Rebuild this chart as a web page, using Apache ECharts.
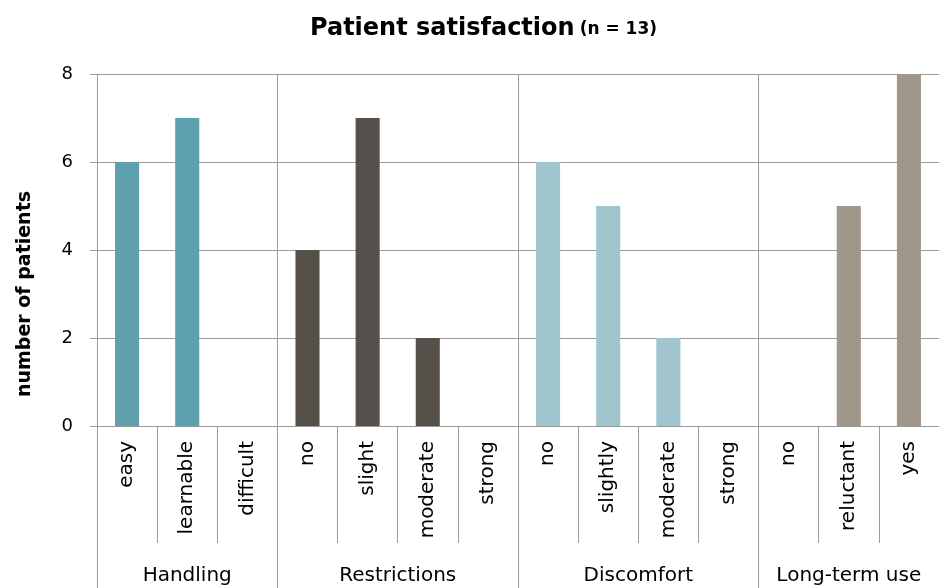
<!DOCTYPE html>
<html>
<head>
<meta charset="utf-8">
<script src="https://cdn.jsdelivr.net/npm/echarts@6/dist/echarts.min.js"></script>
<style>
  html, body { margin: 0; padding: 0; background: #fff; }
  #chart { width: 939px; height: 588px; }
</style>
</head>
<body>
<div id="chart"></div>
<script>
// ---- data ----
const groupNames = ['Handling', 'Restrictions', 'Discomfort', 'Long-term use'];
const handlingCats = ['easy', 'learnable', 'difficult'];
const handlingVals = [6, 7, 0];
const restrictionCats = ['no', 'slight', 'moderate', 'strong'];
const restrictionVals = [4, 7, 2, 0];
const discomfortCats = ['no', 'slightly', 'moderate', 'strong'];
const discomfortVals = [6, 5, 2, 0];
const longTermCats = ['no', 'reluctant', 'yes'];
const longTermVals = [0, 5, 8];
const yTicks = [0, 2, 4, 6, 8];

// ---- styling ----
const groupColors = ['#5FA0AF', '#55514A', '#A0C5CE', '#9F978A'];
const gridColor = '#9a9a9a';
const FONT = 'DejaVu Sans';

const groupCats = [handlingCats, restrictionCats, discomfortCats, longTermCats];
const groupVals = [handlingVals, restrictionVals, discomfortVals, longTermVals];

const categories = [];
const barData = [];
const boundaries = [0];
const centers = [];
groupCats.forEach((cats, g) => {
  const start = categories.length;
  cats.forEach((c, i) => {
    categories.push(c);
    barData.push({ value: groupVals[g][i], itemStyle: { color: groupColors[g] } });
  });
  boundaries.push(categories.length);
  centers.push((start + categories.length) / 2);
});

const chart = echarts.init(document.getElementById('chart'), null, { renderer: 'canvas' });
chart.setOption({
  animation: false,
  backgroundColor: '#ffffff',
  title: {
    text: '{a|Patient satisfaction} {b|(n = 13)}',
    left: 305,
    top: 6,
    textStyle: {
      rich: {
        a: { fontFamily: FONT, fontWeight: 'bold', fontSize: 24, color: '#000', lineHeight: 30, verticalAlign: 'bottom' },
        b: { fontFamily: FONT, fontWeight: 'bold', fontSize: 17, color: '#000', lineHeight: 30, verticalAlign: 'bottom', padding: [0, 0, 3, 0] }
      }
    }
  },
  grid: { left: 97, right: 0, top: 74, bottom: 162, containLabel: false },
  xAxis: [
    {
      type: 'category',
      data: categories,
      position: 'bottom',
      boundaryGap: true,
      axisLine: { show: true, lineStyle: { color: gridColor, width: 1 } },
      axisTick: { show: true, interval: 0, length: 117, lineStyle: { color: gridColor, width: 1 } },
      axisLabel: { interval: 0, rotate: 90, margin: 15, fontFamily: FONT, fontSize: 20, color: '#000' },
      splitLine: { show: false }
    },
    {
      type: 'value',
      min: 0,
      max: categories.length,
      position: 'bottom',
      axisLine: { show: false },
      axisTick: { show: true, customValues: boundaries, length: 162, lineStyle: { color: gridColor, width: 1 } },
      axisLabel: {
        show: true,
        customValues: centers,
        margin: 140,
        fontFamily: FONT,
        fontSize: 20,
        color: '#000',
        formatter: function (v) {
          const idx = centers.indexOf(v);
          return idx >= 0 ? groupNames[idx] : '';
        }
      },
      splitLine: { show: true, lineStyle: { color: gridColor, width: 1 } }
    }
  ],
  yAxis: {
    type: 'value',
    min: yTicks[0],
    max: yTicks[yTicks.length - 1],
    interval: yTicks[1] - yTicks[0],
    name: 'number of patients',
    nameLocation: 'middle',
    nameRotate: 90,
    nameGap: 62,
    nameTextStyle: { fontFamily: FONT, fontWeight: 'bold', fontSize: 19, color: '#000', padding: [0, 88, 0, 0] },
    axisLine: { show: true, lineStyle: { color: gridColor, width: 1 } },
    axisTick: { show: true, length: 7, lineStyle: { color: gridColor, width: 1 } },
    axisLabel: { margin: 24, fontFamily: FONT, fontSize: 18, color: '#000' },
    splitLine: { show: true, lineStyle: { color: gridColor, width: 1 } }
  },
  series: [
    {
      type: 'bar',
      xAxisIndex: 0,
      data: barData,
      barWidth: '40%',
      z: 3
    }
  ]
});
</script>
</body>
</html>
